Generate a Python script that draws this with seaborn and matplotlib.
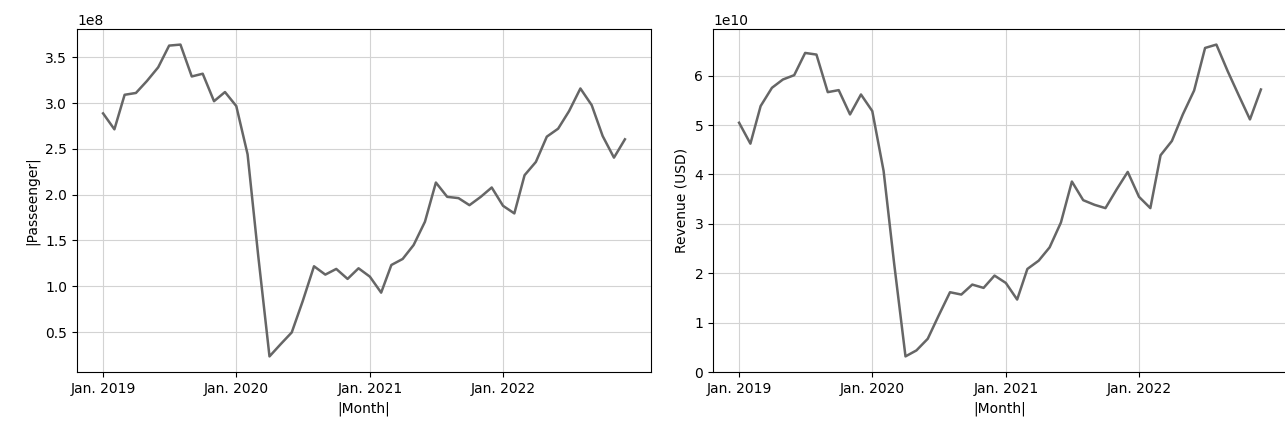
import matplotlib
matplotlib.use("Agg")
import matplotlib.pyplot as plt
import matplotlib.dates as mdates
import numpy as np
import pandas as pd
import seaborn as sns

# Monthly series, Jan 2019 – Dec 2022
months = pd.date_range("2019-01-01", "2022-12-01", freq="MS")

passengers = np.array([
    2.887, 2.713, 3.090, 3.110, 3.240, 3.390, 3.627, 3.638, 3.290, 3.320, 3.020, 3.120,
    2.967, 2.440, 1.337, 0.234, 0.365, 0.496, 0.837, 1.218, 1.127, 1.189, 1.080, 1.196,
    1.105, 0.930, 1.232, 1.298, 1.450, 1.704, 2.132, 1.976, 1.962, 1.885, 1.976, 2.078,
    1.878, 1.795, 2.212, 2.357, 2.633, 2.720, 2.912, 3.159, 2.977, 2.640, 2.404, 2.604,
]) * 1e8

revenue = np.array([
    5.047, 4.623, 5.384, 5.754, 5.922, 6.010, 6.460, 6.427, 5.666, 5.707, 5.215, 5.619,
    5.283, 4.071, 2.190, 0.316, 0.437, 0.673, 1.144, 1.615, 1.568, 1.770, 1.703, 1.952,
    1.803, 1.467, 2.086, 2.254, 2.524, 3.028, 3.856, 3.479, 3.385, 3.318, 3.701, 4.051,
    3.546, 3.318, 4.388, 4.677, 5.215, 5.700, 6.561, 6.629, 6.090, 5.606, 5.114, 5.720,
]) * 1e10

tick_dates = pd.to_datetime(["2019-01-01", "2020-01-01", "2021-01-01", "2022-01-01"])

df = pd.DataFrame({"Month": months, "Passenger": passengers, "Revenue": revenue})

W, H = 1285, 430
fig = plt.figure(figsize=(W / 100, H / 100), dpi=100)
ax1 = fig.add_axes([77 / W, 1 - 372 / H, 574 / W, 343 / H])
ax2 = fig.add_axes([713 / W, 1 - 372 / H, 574 / W, 343 / H])

line_color = "#666666"

sns.lineplot(data=df, x="Month", y="Passenger", ax=ax1, color=line_color, linewidth=1.8)
sns.lineplot(data=df, x="Month", y="Revenue", ax=ax2, color=line_color, linewidth=1.8)

ax1.set_ylabel("|Passeenger|")
ax2.set_ylabel("Revenue (USD)")
ax2.set_ylim(bottom=0)

for ax in (ax1, ax2):
    ax.set_xlabel("|Month|")
    ax.set_xticks(tick_dates)
    ax.xaxis.set_major_formatter(mdates.DateFormatter("%b. %Y"))
    ax.grid(True, color="#d3d3d3", linewidth=0.8)
    ax.set_axisbelow(True)

fig.savefig("out.png", dpi=100)
